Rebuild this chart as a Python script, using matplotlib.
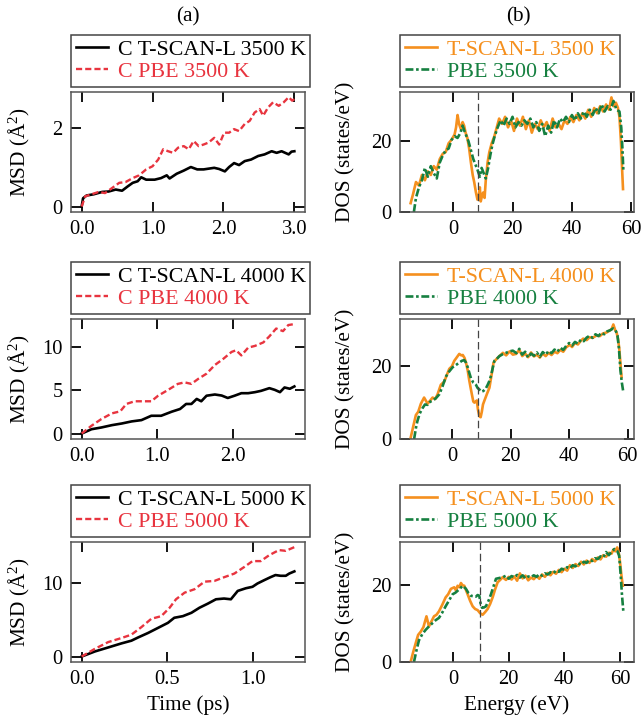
import matplotlib
matplotlib.use("Agg")
import matplotlib.pyplot as plt
from matplotlib.ticker import MultipleLocator, FormatStrFormatter

plt.rcParams['font.family'] = ['Liberation Serif', 'DejaVu Serif']
plt.rcParams['mathtext.fontset'] = 'custom'
plt.rcParams['mathtext.rm'] = 'Liberation Serif'
plt.rcParams['mathtext.it'] = 'Liberation Serif:italic'

### MSD data (time in ps, MSD in A^2)
t_3500_scan = [0.0, 0.02, 0.07, 0.17, 0.29, 0.38, 0.48, 0.57, 0.65, 0.72, 0.79, 0.84, 0.91, 1.03, 1.12,
               1.2, 1.24, 1.34, 1.44, 1.54, 1.63, 1.72, 1.87, 1.94, 2.02, 2.08, 2.15, 2.22, 2.3, 2.39,
               2.49, 2.58, 2.68, 2.75, 2.82, 2.92, 2.96, 3.0]
msd_3500_scan = [0.0, 0.21, 0.28, 0.31, 0.37, 0.38, 0.43, 0.40, 0.51, 0.60, 0.64, 0.74, 0.68, 0.68, 0.72,
                 0.79, 0.71, 0.83, 0.91, 1.0, 0.94, 0.94, 0.98, 0.95, 0.89, 1.0, 1.1, 1.05, 1.15, 1.19,
                 1.28, 1.32, 1.4, 1.36, 1.4, 1.32, 1.39, 1.4]
t_3500_pbe = [0.0, 0.05, 0.14, 0.24, 0.33, 0.43, 0.53, 0.62, 0.72, 0.81, 0.91, 1.0, 1.08, 1.15, 1.22,
              1.29, 1.36, 1.44, 1.51, 1.58, 1.65, 1.72, 1.79, 1.87, 1.94, 2.01, 2.08, 2.15, 2.22, 2.3,
              2.37, 2.44, 2.51, 2.56, 2.63, 2.7, 2.78, 2.85, 2.92, 2.97, 3.0]
msd_3500_pbe = [0.0, 0.26, 0.31, 0.37, 0.34, 0.47, 0.60, 0.62, 0.72, 0.79, 0.94, 1.02, 1.19, 1.45, 1.40,
                1.36, 1.49, 1.53, 1.45, 1.66, 1.53, 1.57, 1.62, 1.74, 1.57, 1.87, 1.87, 1.96, 1.91, 2.09,
                2.17, 2.38, 2.47, 2.30, 2.51, 2.64, 2.55, 2.64, 2.77, 2.68, 2.72]

t_4000_scan = [0.0, 0.13, 0.26, 0.4, 0.53, 0.66, 0.79, 0.92, 1.05, 1.19, 1.3, 1.38, 1.45, 1.52, 1.58,
               1.65, 1.76, 1.85, 1.93, 2.02, 2.11, 2.2, 2.29, 2.37, 2.48, 2.55, 2.62, 2.68, 2.75, 2.81]
msd_4000_scan = [0.0, 0.5, 0.7, 0.97, 1.16, 1.4, 1.55, 2.05, 2.05, 2.52, 2.83, 3.41, 3.41, 3.99, 3.72,
                 4.36, 4.5, 4.38, 4.1, 4.36, 4.65, 4.65, 4.77, 4.92, 5.23, 5.04, 4.77, 5.31, 5.16, 5.43]
t_4000_pbe = [0.0, 0.13, 0.26, 0.4, 0.51, 0.59, 0.7, 0.84, 0.92, 1.01, 1.14, 1.27, 1.36, 1.45, 1.54,
              1.65, 1.76, 1.87, 1.98, 2.04, 2.11, 2.2, 2.29, 2.4, 2.48, 2.57, 2.66, 2.73, 2.8]
msd_4000_pbe = [0.0, 0.9, 1.67, 2.33, 2.56, 3.41, 3.72, 3.72, 3.72, 4.36, 5.02, 5.72, 5.9, 5.72, 6.3,
                6.9, 7.9, 8.6, 9.4, 9.6, 9.0, 9.9, 10.1, 10.5, 11.2, 12.1, 11.8, 12.5, 12.6]

t_5000_scan = [0.0, 0.077, 0.155, 0.232, 0.29, 0.33, 0.387, 0.445, 0.503, 0.54, 0.59, 0.64, 0.687, 0.735,
               0.783, 0.83, 0.87, 0.91, 0.957, 0.996, 1.025, 1.064, 1.1, 1.13, 1.16, 1.19, 1.21, 1.24]
msd_5000_scan = [0.0, 0.69, 1.24, 1.79, 2.16, 2.61, 3.21, 3.9, 4.59, 5.28, 5.5, 5.96, 6.65, 7.2,
                 7.8, 7.9, 7.8, 8.94, 9.3, 9.5, 9.95, 10.4, 10.8, 11.1, 11.0, 11.0, 11.3, 11.6]
t_5000_pbe = [0.0, 0.077, 0.155, 0.232, 0.29, 0.348, 0.406, 0.464, 0.513, 0.55, 0.6, 0.658, 0.716, 0.774,
              0.83, 0.89, 0.948, 0.996, 1.044, 1.093, 1.15, 1.19, 1.24]
msd_5000_pbe = [0.0, 1.05, 1.97, 2.52, 2.98, 4.0, 5.14, 5.5, 6.65, 7.8, 8.7, 9.17, 10.2, 10.3,
                10.8, 11.3, 12.2, 13.0, 13.0, 13.8, 14.5, 14.4, 14.9]

### DOS data (energy in eV, DOS in states/eV)
e_3500_scan = [-14.3, -13.5, -12.5, -11.5, -10.5, -9.5, -8.5, -7.5, -6.5, -5.5, -4.5, -3.5, -2.5, -1.5,
               -0.5, 0.5, 1.0, 1.5, 2.0, 2.6, 3.2, 3.7, 4.2, 4.8, 5.4, 6.0, 6.6, 7.1, 7.7, 8.2, 8.6,
               9.0, 9.3, 9.7, 10.1, 10.6, 11.0, 11.6, 12.2, 13.0, 13.9, 14.7, 15.5, 16.5, 17.5, 18.5,
               19.5, 20.5, 21.5, 22.5, 23.5, 24.5, 25.5, 26.5, 27.5, 28.5, 29.5, 30.5, 31.5, 32.5,
               33.5, 34.5, 35.5, 36.5, 37.5, 38.5, 39.5, 40.5, 41.5, 42.5, 43.5, 44.5, 45.5, 46.5,
               47.5, 48.5, 49.5, 50.5, 51.5, 52.5, 53.3, 54.0, 54.8, 55.5, 56.0, 56.5, 56.9, 57.2]
dos_3500_scan = [2.5, 5.0, 8.5, 7.5, 10.5, 9.0, 11.5, 10.5, 13.0, 12.0, 15.0, 16.5, 17.0, 19.5,
                 20.5, 22.0, 24.0, 27.5, 25.0, 23.5, 25.5, 24.5, 22.5, 21.0, 18.0, 14.0, 10.5, 8.5, 5.5,
                 3.5, 4.0, 7.0, 3.0, 4.5, 5.5, 4.0, 9.0, 14.0, 17.0, 19.5, 21.5, 24.0, 26.5, 25.0, 27.0,
                 24.0, 26.0, 23.0, 26.5, 24.5, 27.0, 23.5, 26.0, 22.5, 25.0, 23.5, 26.0, 24.0, 25.5,
                 23.0, 26.5, 24.0, 25.0, 23.5, 26.0, 25.0, 27.0, 25.5, 27.5, 26.0, 28.0, 26.5, 29.0,
                 27.0, 29.5, 28.0, 30.0, 28.5, 30.5, 29.0, 32.5, 30.0, 31.0, 29.5, 27.0, 20.0, 12.0, 6.5]
e_3500_pbe = [-13.2, -12.5, -11.5, -10.5, -9.5, -8.5, -7.5, -6.5, -5.5, -4.5, -3.5, -2.5, -1.5, -0.5,
              0.5, 1.5, 2.5, 3.2, 3.8, 4.5, 5.2, 6.0, 6.8, 7.5, 8.2, 9.0, 9.6, 10.3, 11.0, 11.8, 12.5,
              13.2, 14.0, 15.0, 16.0, 17.0, 18.0, 19.0, 20.0, 21.0, 22.0, 23.0, 24.0, 25.0, 26.0,
              27.0, 28.0, 29.0, 30.0, 31.0, 32.0, 33.0, 34.0, 35.0, 36.0, 37.0, 38.0, 39.0, 40.0,
              41.0, 42.0, 43.0, 44.0, 45.0, 46.0, 47.0, 48.0, 49.0, 50.0, 51.0, 52.0, 53.0, 54.0,
              55.0, 56.0, 56.6, 57.0, 57.3]
dos_3500_pbe = [0.0, 4.0, 7.0, 9.0, 12.5, 10.0, 13.0, 11.0, 9.5, 14.0, 16.0, 17.5, 18.0, 20.5,
                21.5, 21.0, 22.5, 24.5, 23.0, 21.5, 20.0, 17.5, 15.0, 13.5, 12.0, 10.0, 12.5, 11.0, 9.5,
                12.5, 16.0, 19.0, 21.5, 24.0, 26.0, 24.5, 26.5, 25.0, 27.0, 24.0, 25.5, 24.5, 26.0,
                25.0, 26.5, 24.0, 25.5, 23.0, 25.0, 21.5, 24.5, 22.5, 26.0, 24.0, 26.5, 25.5, 27.0,
                25.5, 27.5, 26.0, 28.0, 26.5, 28.5, 27.0, 29.0, 27.5, 29.5, 28.0, 30.5, 28.5, 30.0,
                29.0, 31.5, 29.0, 28.5, 24.0, 18.0, 12.0]

e_4000_scan = [-14.1, -13.2, -12.3, -11.5, -10.6, -9.5, -8.3, -7.5, -6.6, -5.7, -4.9, -3.8, -2.6, -1.8,
               -0.9, 0.0, 0.8, 1.7, 2.5, 3.2, 3.7, 4.3, 4.8, 5.4, 5.9, 6.4, 6.9, 7.3, 7.7, 8.1, 8.5,
               8.9, 9.4, 9.8, 10.2, 10.6, 11.1, 12.0, 12.8, 13.5, 14.2, 15.0, 15.7, 16.5, 17.4, 18.5,
               19.7, 20.8, 21.9, 23.0, 24.0, 25.0, 26.0, 27.0, 28.0, 29.0, 30.0, 31.0, 32.0, 33.0,
               34.0, 35.0, 36.0, 37.0, 38.0, 39.0, 40.2, 41.0, 42.0, 43.0, 44.0, 44.8, 46.0, 47.0,
               48.0, 49.4, 50.5, 51.5, 52.8, 53.8, 54.5, 55.1, 55.7, 56.2, 56.7, 57.1, 57.5, 57.9]
dos_4000_scan = [0.3, 3.5, 6.6, 7.5, 9.7, 11.4, 9.7, 10.5, 11.4, 11.0, 12.3, 14.9, 15.8, 17.5,
                 19.3, 20.0, 21.5, 22.5, 23.4, 23.0, 23.1, 22.3, 21.0, 18.8, 16.2, 14.0, 11.9, 10.3,
                 10.0, 10.3, 10.6, 8.0, 6.2, 6.0, 7.5, 9.5, 10.6, 12.5, 14.1, 17.5, 21.0, 21.8, 22.4,
                 23.0, 23.7, 23.0, 24.1, 23.2, 23.4, 24.5, 22.8, 23.5, 22.5, 23.8, 22.7, 23.2, 22.4,
                 23.5, 22.8, 23.7, 23.1, 24.0, 23.6, 24.5, 24.0, 25.2, 25.9, 25.3, 26.4, 26.0, 27.0,
                 27.6, 27.2, 28.0, 27.8, 28.5, 28.3, 29.0, 29.3, 29.8, 30.2, 31.5, 30.0, 29.3, 27.5,
                 25.0, 21.0, 17.1]
e_4000_pbe = [-12.9, -12.3, -11.8, -11.0, -10.1, -9.2, -8.3, -7.5, -6.6, -5.5, -4.3, -3.2, -2.1, -1.0,
              0.2, 1.3, 2.5, 3.4, 4.2, 4.8, 5.4, 6.0, 6.5, 7.3, 8.2, 8.8, 9.4, 10.0, 10.7, 11.5, 12.2,
              12.8, 13.4, 14.0, 14.5, 15.3, 16.2, 17.3, 18.5, 19.6, 20.8, 22.0, 23.0, 24.0, 25.0,
              26.0, 27.0, 28.0, 29.0, 30.0, 31.0, 32.0, 33.0, 34.0, 35.0, 36.0, 37.0, 38.0, 39.0,
              40.0, 41.0, 42.0, 43.0, 44.0, 45.0, 46.0, 47.0, 48.0, 49.0, 50.0, 51.0, 52.0, 53.0,
              54.0, 55.0, 55.8, 56.5, 57.0, 57.5, 58.0, 58.5]
dos_4000_pbe = [0.0, 3.0, 4.9, 7.0, 8.4, 9.5, 9.4, 10.2, 10.6, 11.2, 12.3, 14.5, 17.1, 18.5,
                19.7, 20.3, 21.0, 21.5, 21.7, 21.0, 19.7, 18.0, 16.7, 15.5, 14.9, 14.0, 13.6, 13.0,
                13.2, 13.8, 14.9, 16.0, 17.6, 19.8, 21.5, 22.0, 22.8, 23.3, 23.7, 24.1, 24.3, 23.6,
                24.8, 23.2, 24.0, 22.4, 23.5, 22.9, 23.8, 22.6, 23.9, 23.2, 24.2, 23.6, 24.6, 24.0,
                25.1, 24.5, 25.6, 26.4, 25.7, 26.7, 26.2, 27.3, 26.9, 27.9, 28.4, 27.8, 28.8, 28.3,
                29.2, 28.8, 29.6, 29.9, 30.4, 30.0, 28.5, 25.0, 19.0, 15.5, 12.9]

e_5000_scan = [-15.3, -14.4, -13.5, -12.6, -11.7, -10.7, -9.6, -8.7, -7.8, -6.9, -6.0, -5.1, -3.9, -2.7,
               -1.8, -0.8, 0.4, 1.0, 1.6, 2.2, 2.8, 3.4, 4.0, 4.6, 5.2, 6.1, 7.0, 7.9, 8.8, 9.7, 10.6,
               11.5, 12.4, 13.3, 14.2, 15.1, 16.0, 16.9, 17.8, 19.0, 20.0, 21.0, 22.0, 23.0, 24.0,
               25.0, 26.0, 27.0, 28.0, 29.0, 30.0, 31.0, 32.0, 33.0, 34.0, 35.0, 36.0, 37.0, 38.0,
               39.0, 40.0, 41.0, 42.0, 43.0, 44.0, 45.0, 46.0, 47.0, 48.0, 49.0, 50.0, 51.0, 52.0,
               53.0, 54.0, 55.0, 56.0, 57.0, 57.6, 58.3, 59.0, 59.5, 60.0, 60.5, 61.0]
dos_5000_scan = [0.0, 2.5, 4.8, 7.0, 7.8, 9.0, 11.8, 9.2, 10.5, 11.8, 12.2, 13.1, 14.8, 16.7,
                 17.5, 18.9, 19.3, 18.5, 19.7, 19.3, 20.4, 19.8, 19.7, 18.6, 17.5, 15.8, 14.4, 13.7,
                 13.4, 12.6, 12.2, 12.9, 13.7, 15.0, 16.7, 18.8, 20.6, 21.2, 21.9, 21.2, 22.0, 21.3,
                 22.1, 21.0, 22.9, 21.6, 22.3, 21.1, 21.8, 21.4, 22.2, 21.5, 22.6, 22.0, 23.0, 22.4,
                 23.3, 22.8, 23.8, 23.2, 24.1, 23.6, 25.0, 24.3, 25.3, 24.8, 25.9, 25.2, 26.2, 25.6,
                 26.6, 26.0, 27.0, 26.5, 27.6, 27.2, 28.2, 28.0, 29.0, 28.6, 29.6, 28.5, 25.9, 22.5,
                 19.7]
e_5000_pbe = [-14.1, -13.2, -12.3, -11.1, -9.9, -8.7, -7.5, -6.3, -5.1, -3.9, -2.7, -1.4, -0.2, 0.8,
              1.6, 2.5, 3.4, 4.0, 4.6, 5.5, 6.4, 7.3, 8.2, 8.8, 9.4, 9.9, 10.4, 11.1, 11.8, 12.7, 13.6,
              14.5, 15.4, 16.6, 17.8, 19.0, 20.0, 21.0, 22.0, 23.0, 24.0, 25.0, 26.0, 27.0, 28.0,
              29.0, 30.0, 31.0, 32.0, 33.0, 34.0, 35.0, 36.0, 37.0, 38.0, 39.0, 40.0, 41.0, 42.0,
              43.0, 44.0, 45.0, 46.0, 47.0, 48.0, 49.0, 50.0, 51.0, 52.0, 53.0, 54.0, 55.0, 56.0,
              57.0, 58.0, 59.0, 59.7, 60.2, 60.7, 61.2]
dos_5000_pbe = [0.0, 3.0, 5.6, 7.2, 8.3, 9.2, 10.0, 10.8, 11.4, 12.8, 14.4, 16.0, 17.5, 17.9,
                18.4, 19.0, 19.7, 19.3, 18.9, 17.8, 17.1, 17.0, 16.9, 17.3, 17.1, 15.0, 14.0, 14.1,
                14.4, 15.8, 17.5, 19.5, 21.5, 21.7, 21.9, 22.3, 21.5, 22.2, 21.9, 22.5, 21.8, 22.4,
                21.6, 22.1, 21.9, 22.4, 22.0, 22.7, 22.3, 22.9, 22.6, 23.2, 22.9, 23.6, 23.3, 24.1,
                23.8, 24.5, 24.2, 25.0, 24.7, 25.5, 25.1, 25.9, 25.6, 26.4, 26.1, 26.8, 26.6, 27.3,
                27.0, 28.4, 27.6, 28.5, 29.2, 28.7, 27.5, 23.0, 17.5, 13.1]

### Fermi levels (eV), one per temperature
fermi_levels = [8.3, 8.8, 9.6]
temperatures = ["3500", "4000", "5000"]

RED = '#e8343f'
ORANGE = '#f5901e'
GREEN = '#168040'

msd_sets = [(t_3500_scan, msd_3500_scan, t_3500_pbe, msd_3500_pbe),
            (t_4000_scan, msd_4000_scan, t_4000_pbe, msd_4000_pbe),
            (t_5000_scan, msd_5000_scan, t_5000_pbe, msd_5000_pbe)]
dos_sets = [(e_3500_scan, dos_3500_scan, e_3500_pbe, dos_3500_pbe),
            (e_4000_scan, dos_4000_scan, e_4000_pbe, dos_4000_pbe),
            (e_5000_scan, dos_5000_scan, e_5000_pbe, dos_5000_pbe)]
msd_xstep = [1.0, 1.0, 0.5]
msd_ystep = [2, 5, 10]

fig = plt.figure(figsize=(6.41, 7.27), dpi=100)

row_bottoms = [0.7084, 0.3961, 0.0894]
ax_h = 0.1655
ax_w = 0.365


def style_axes(ax):
    for sp in ax.spines.values():
        sp.set_color('#555555')
        sp.set_linewidth(1.1)
    ax.tick_params(direction='in', length=7, width=1.3, color='black', top=True, right=True,
                   labelsize=14.8, pad=6)


def add_legend(ax, colors):
    leg = ax.legend(loc='lower left', bbox_to_anchor=(0, 1.04), borderaxespad=0, fontsize=15.8,
                    fancybox=False, edgecolor='#444444', framealpha=1, handlelength=1.45,
                    handletextpad=0.45, labelspacing=0.08, borderpad=0.22)
    leg.get_frame().set_linewidth(1.1)
    for txt, c in zip(leg.get_texts(), colors):
        txt.set_color(c)


for i in range(3):
    # left: MSD
    ax = fig.add_axes([0.1108, row_bottoms[i], ax_w, ax_h])
    ts, ms, tp, mp = msd_sets[i]
    ax.plot(ts, ms, color='black', lw=1.9, label="C T-SCAN-L " + temperatures[i] + " K")
    ax.plot(tp, mp, color=RED, lw=1.7, linestyle=(0, (2.6, 1.3)), label="C PBE " + temperatures[i] + " K")
    ax.xaxis.set_major_locator(MultipleLocator(msd_xstep[i]))
    ax.xaxis.set_major_formatter(FormatStrFormatter('%.1f'))
    ax.yaxis.set_major_locator(MultipleLocator(msd_ystep[i]))
    ax.set_ylabel("MSD (Å$^2$)", fontsize=15.3)
    ax.yaxis.set_label_coords(-0.165, 0.5)
    style_axes(ax)
    add_legend(ax, ['black', RED])
    if i == 2:
        ax.set_xlabel("Time (ps)", fontsize=15.3)

    # right: DOS
    ax = fig.add_axes([0.624, row_bottoms[i], ax_w, ax_h])
    es, ds, ep, dp = dos_sets[i]
    ax.plot(es, ds, color=ORANGE, lw=1.9, label="T-SCAN-L " + temperatures[i] + " K")
    ax.plot(ep, dp, color=GREEN, lw=1.9, linestyle=(0, (3.0, 1.0, 1.0, 1.0)), label="PBE " + temperatures[i] + " K")
    ax.axvline(fermi_levels[i], color='#444444', lw=0.9, linestyle=(0, (6, 3)))
    ax.set_ylim(bottom=0)
    ax.xaxis.set_major_locator(MultipleLocator(20))
    ax.yaxis.set_major_locator(MultipleLocator(20))
    ax.set_ylabel("DOS (states/eV)", fontsize=15.3)
    ax.yaxis.set_label_coords(-0.19, 0.5)
    style_axes(ax)
    add_legend(ax, [ORANGE, GREEN])
    if i == 2:
        ax.set_xlabel("Energy (eV)", fontsize=15.3)

fig.text(0.293, 0.977, "(a)", ha='center', va='center', fontsize=15.3)
fig.text(0.808, 0.977, "(b)", ha='center', va='center', fontsize=15.3)

plt.savefig("out.png", dpi=100)
plt.close()
